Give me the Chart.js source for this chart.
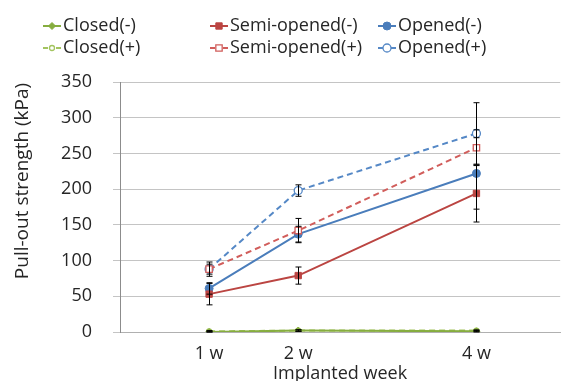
<!DOCTYPE html>
<html lang="en">
<head>
  <meta charset="UTF-8">
  <title>Pull-out strength</title>
  <script src="https://cdn.jsdelivr.net/npm/chart.js"></script>
  <style>
    body { margin: 0; background: #fff; overflow: hidden; }
  </style>
</head>
<body>
  <canvas id="chart" width="566" height="381"></canvas>

  <script>
    // weeks after implantation
    const weeks = [1, 2, 4];

    // pull-out strength (kPa)
    const closedMinus = [0, 2, 1];
    const closedPlus  = [1, 2, 2];
    const semiMinus   = [53, 79, 194];
    const semiPlus    = [88, 142, 258];
    const openMinus   = [61, 137, 222];
    const openPlus    = [88, 198, 278];

    // error bars (+/-)
    const closedMinusErr = [1, 1, 1];
    const closedPlusErr  = [1, 1, 1];
    const semiMinusErr   = [15, 12, 40];
    const semiPlusErr    = [7, 17, 25];
    const openMinusErr   = [8, 11, 50];
    const openPlusErr    = [10, 8, 43];

    const yTitle = 'Pull-out strength (kPa)';

    const FONT = '"Open Sans", "DejaVu Sans", sans-serif';
    const TEXT = '#262626';
    const GREEN = '#86ad3f', GREEN2 = '#a3c45f';
    const RED = '#bb4542', RED2 = '#d15d5b';
    const BLUE = '#4a7dbb', BLUE2 = '#5588c6';

    function pts(vals) {
      return weeks.map((w, i) => ({ x: w, y: vals[i] }));
    }

    function series(label, vals, errs, color, dashed, style, radius, filled, legendPos) {
      return {
        label,
        data: pts(vals),
        errs,
        legendPos,
        showLine: true,
        borderColor: color,
        borderWidth: 2,
        borderDash: dashed ? [6, 4] : [],
        pointStyle: style,
        pointRadius: radius,
        pointBorderWidth: filled ? 1 : 1.3,
        pointBackgroundColor: filled ? color : '#fff',
        pointBorderColor: color,
        tension: 0
      };
    }

    const datasets = [
      series('Closed(-)', closedMinus, closedMinusErr, GREEN, false, 'rectRot', 3.5, true, [43, 26]),
      series('Closed(+)', closedPlus, closedPlusErr, GREEN2, true, 'circle', 2.5, false, [43, 48]),
      series('Semi-opened(-)', semiMinus, semiMinusErr, RED, false, 'rect', 4.5, true, [210, 26]),
      series('Semi-opened(+)', semiPlus, semiPlusErr, RED2, true, 'rect', 4.5, false, [210, 48]),
      series('Opened(-)', openMinus, openMinusErr, BLUE, false, 'circle', 4, true, [378, 26]),
      series('Opened(+)', openPlus, openPlusErr, BLUE2, true, 'circle', 4, false, [378, 48])
    ];

    // error bars drawn through the scales
    const errorBars = {
      id: 'errorBars',
      afterDatasetsDraw(chart) {
        const c = chart.ctx, xs = chart.scales.x, ys = chart.scales.y;
        c.save();
        c.strokeStyle = '#000';
        c.lineWidth = 1;
        chart.data.datasets.forEach(ds => {
          ds.data.forEach((p, i) => {
            const e = ds.errs[i];
            const x = Math.round(xs.getPixelForValue(p.x)) + 0.5;
            const yt = ys.getPixelForValue(p.y + e);
            const yb = ys.getPixelForValue(Math.max(0, p.y - e));
            c.beginPath();
            c.moveTo(x, yt); c.lineTo(x, yb);
            c.moveTo(x - 3, yt); c.lineTo(x + 3, yt);
            c.moveTo(x - 3, yb); c.lineTo(x + 3, yb);
            c.stroke();
          });
        });
        c.restore();
      }
    };

    // two-row legend with fixed columns, plus the y title placed like the original
    const gridLegend = {
      id: 'gridLegend',
      afterDraw(chart) {
        const c = chart.ctx;
        c.save();
        chart.data.datasets.forEach(ds => {
          const [x, y] = ds.legendPos;
          c.strokeStyle = ds.borderColor;
          c.lineWidth = 2;
          c.setLineDash([]);
          c.beginPath();
          if (ds.borderDash.length) {
            c.moveTo(x, y); c.lineTo(x + 5, y);
            c.moveTo(x + 13, y); c.lineTo(x + 18, y);
          } else {
            c.moveTo(x, y); c.lineTo(x + 18, y);
          }
          c.stroke();
          c.fillStyle = ds.pointBackgroundColor;
          c.strokeStyle = ds.pointBorderColor;
          c.lineWidth = ds.pointBorderWidth;
          Chart.helpers.drawPoint(c, {
            pointStyle: ds.pointStyle,
            radius: ds.pointRadius,
            borderWidth: ds.pointBorderWidth,
            rotation: 0
          }, x + 9, y);
          c.fillStyle = TEXT;
          c.font = '18px ' + FONT;
          c.textBaseline = 'middle';
          c.textAlign = 'left';
          c.fillText(ds.label, x + 20, y);
        });

        c.translate(23, 181);
        c.rotate(-Math.PI / 2);
        c.fillStyle = TEXT;
        c.font = '19px ' + FONT;
        c.textAlign = 'center';
        c.textBaseline = 'middle';
        c.fillText(yTitle, 0, 0);
        c.restore();
      }
    };

    const ctx = document.getElementById('chart').getContext('2d');

    new Chart(ctx, {
      type: 'scatter',
      data: { datasets },
      plugins: [errorBars, gridLegend],
      options: {
        responsive: false,
        animation: false,
        layout: { padding: { top: 82, left: 0, right: 0, bottom: 0 } },
        plugins: {
          legend: { display: false },
          tooltip: { enabled: false }
        },
        scales: {
          x: {
            type: 'linear',
            min: 0,
            max: 4.94,
            afterBuildTicks: axis => { axis.ticks = weeks.map(v => ({ value: v })); },
            afterFit: axis => { axis.height = 49; },
            grid: { display: false },
            border: { display: true, color: '#b0b0b0' },
            ticks: {
              color: TEXT,
              font: { family: FONT, size: 18 },
              padding: 3,
              maxRotation: 0,
              callback: v => v + ' w'
            },
            title: {
              display: true,
              text: 'Implanted week',
              color: TEXT,
              font: { family: FONT, size: 18 },
              padding: { top: 0, bottom: -4 }
            }
          },
          y: {
            min: 0,
            max: 350,
            afterFit: axis => { axis.width = 120; },
            ticks: {
              stepSize: 50,
              color: TEXT,
              font: { family: FONT, size: 18 },
              padding: 21
            },
            grid: { color: '#c4c4c4', tickLength: 7 },
            border: { display: true, color: '#8c8c8c' }
          }
        }
      }
    });
  </script>
</body>
</html>
